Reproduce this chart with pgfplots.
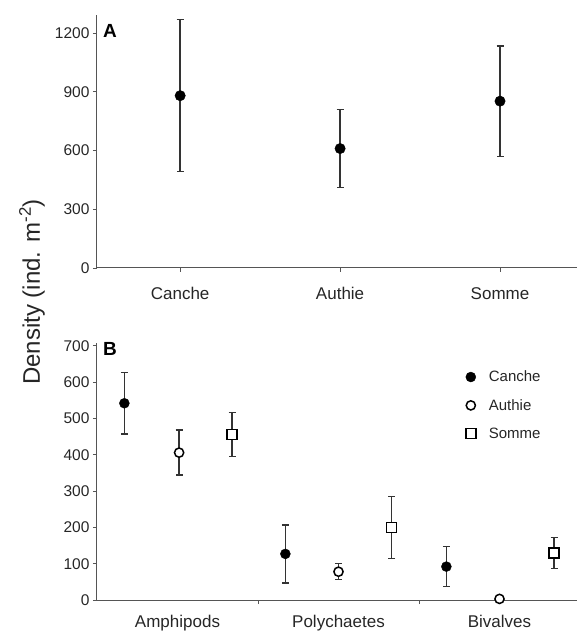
\documentclass[border=0pt]{standalone}
\usepackage{fontspec}
\setmainfont{Liberation Sans}
\usepackage{pgfplots}
\pgfplotsset{compat=1.18}

\definecolor{axisgray}{HTML}{555555}
\definecolor{bargray}{HTML}{333333}

\pgfplotsset{
  panel/.style={
    scale only axis, width=483pt,
    axis x line*=bottom, axis y line*=left,
    axis line style={axisgray, line width=1pt, -},
    tick style={axisgray, line width=0.9pt},
    tick align=outside, major tick length=4pt,
    /pgf/number format/assume math mode=true,
    /pgf/number format/1000 sep={},
    scaled y ticks=false,
    yticklabel style={font=\fontsize{15.5}{17}\selectfont, text=black!85},
    xticklabel style={font=\fontsize{17}{19}\selectfont, text=black!85, yshift=-12pt},
    clip=false,
  },
  ebar/.style={only marks, error bars/y dir=both, error bars/y explicit,
    error bars/error bar style={bargray, line width=1.5pt},
    error bars/error mark options={rotate=90, mark size=3.5pt, bargray, line width=1.3pt}},
}

\begin{document}
\begin{tikzpicture}
\useasboundingbox (-97pt,-35pt) rectangle (480pt,600pt);

% panel A
\begin{axis}[panel, at={(0pt,332pt)}, anchor=south west, height=253pt,
  xmin=-0.52, xmax=2.5, ymin=0, ymax=1292,
  xtick={0,1,2}, xticklabels={Canche,Authie,Somme},
  ytick={0,300,600,900,1200}]
\addplot+[ebar, mark=*, mark size=5.2pt, mark options={black, fill=black}]
  coordinates {(0,880) +- (0,388) (1,610) +- (0,198) (2,852) +- (0,282)};
\end{axis}
\node[font=\fontsize{19}{21}\selectfont\bfseries] at (13pt,569pt) {A};

% panel B
\begin{axis}[panel, at={(0pt,0pt)}, anchor=south west, height=257pt,
  xmin=0, xmax=3, ymin=0, ymax=708,
  xtick={1,2}, xticklabels={},
  extra x ticks={0.5,1.5,2.5},
  extra x tick labels={Amphipods,Polychaetes,Bivalves},
  extra x tick style={major tick length=0pt},
  ytick={0,100,...,700},
  legend style={draw=none, fill=none, at={(0.757,0.908)}, anchor=north west,
    font=\fontsize{15}{17}\selectfont, row sep=12pt, column sep=11pt, text=black!85},
  legend cell align=left]
\addplot+[ebar, mark=*, mark size=5pt, mark options={black, fill=black}]
  coordinates {(0.17,542) +- (0,85) (1.17,127) +- (0,80) (2.17,92) +- (0,55)};
\addlegendentry{Canche}
\addplot+[ebar, mark=*, mark size=4.6pt, mark options={black, fill=white, line width=1.5pt}]
  coordinates {(0.51,406) +- (0,62) (1.5,78) +- (0,22) (2.5,3) +- (0,0)};
\addlegendentry{Authie}
\addplot+[ebar, mark=square*, mark size=5pt, mark options={black, fill=white, line width=1.5pt}]
  coordinates {(0.84,456) +- (0,60) (1.83,200) +- (0,86) (2.84,129) +- (0,43)};
\addlegendentry{Somme}
\end{axis}
\node[font=\fontsize{19}{21}\selectfont\bfseries] at (13pt,251pt) {B};

\node[rotate=90, font=\fontsize{24}{28}\selectfont, text=black!85] at (-65pt,308pt)
  {Density (ind. m\textsuperscript{-2})};
\end{tikzpicture}
\end{document}
